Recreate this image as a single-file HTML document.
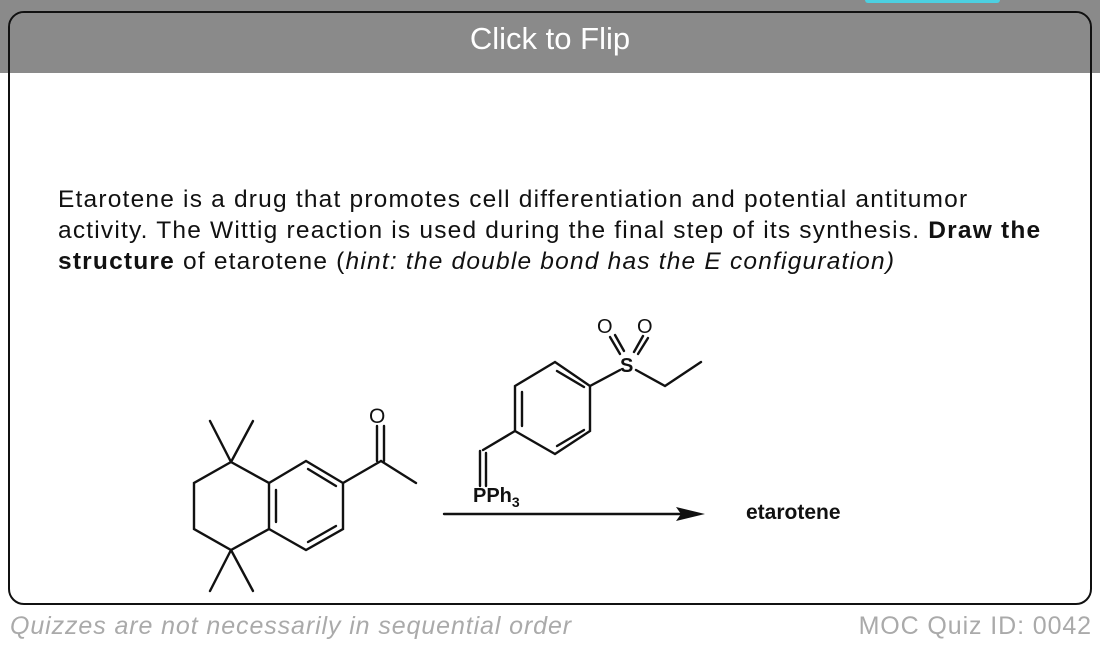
<!DOCTYPE html>
<html><head><meta charset="utf-8"><style>
html,body{margin:0;padding:0;width:1100px;height:648px;overflow:hidden;background:#fff;font-family:"Liberation Sans",Arial,sans-serif;}
#top{position:absolute;left:0;top:0;width:1100px;height:73px;background:#8a8a8a;}
#cyan{position:absolute;left:865px;top:0;width:135px;height:3px;background:#4dd0e1;border-radius:0 0 4px 4px;}
#card{position:absolute;left:8px;top:11px;width:1084px;height:594px;border:2px solid #111;border-radius:16px;box-sizing:border-box;}
#hdr{position:absolute;left:10px;top:13px;width:1080px;height:60px;background:#8a8a8a;border-radius:14px 14px 0 0;}
#title{position:absolute;left:0;width:1100px;top:21px;text-align:center;color:#fff;font-size:31px;}
#q{position:absolute;left:58px;top:184px;width:1040px;font-size:24.5px;line-height:31px;color:#111;white-space:nowrap;letter-spacing:1.2px;}
.ft{position:absolute;top:612px;font-size:25px;color:#aaa;letter-spacing:0.9px;}
</style></head><body>
<div id="top"></div><div id="cyan"></div>
<div id="card"></div><div id="hdr"></div>
<div id="title">Click to Flip</div>
<div id="q">Etarotene is a drug that promotes cell differentiation and potential antitumor<br>activity. The Wittig reaction is used during the final step of its synthesis. <b>Draw the</b><br><b>structure</b> of etarotene (<i>hint: the double bond has the E configuration)</i></div>
<svg style="position:absolute;left:0;top:0" width="1100" height="648" fill="none" stroke="#111" stroke-width="2.4" stroke-linecap="round">
<polyline points="231,462 194,483 194,529 231,550 269,529 269,483 231,462"/>
<line x1="231" y1="462" x2="210" y2="421"/><line x1="231" y1="462" x2="253" y2="421"/>
<line x1="231" y1="550" x2="210" y2="591"/><line x1="231" y1="550" x2="253" y2="591"/>
<polyline points="269,483 306,461 343,483 343,529 306,550 269,529"/>
<line x1="276" y1="490" x2="276" y2="522"/>
<line x1="308" y1="469" x2="336" y2="486"/>
<line x1="308" y1="542" x2="336" y2="526"/>
<line x1="343" y1="483" x2="381" y2="461"/>
<line x1="381" y1="461" x2="416" y2="483"/>
<line x1="377" y1="461" x2="377" y2="426"/><line x1="384" y1="461" x2="384" y2="426"/>
<polyline points="515,431 515,386 555,362 590,386 590,431 555,454 515,431"/>
<line x1="522" y1="392" x2="522" y2="426"/>
<line x1="557" y1="371" x2="584" y2="387"/>
<line x1="557" y1="446" x2="584" y2="430"/>
<line x1="515" y1="431" x2="483" y2="450"/>
<line x1="480" y1="451" x2="480" y2="486"/><line x1="486" y1="453" x2="486" y2="486"/>
<line x1="590" y1="386" x2="620" y2="370"/>
<polyline points="636,370 665,386 701,362"/>
<line x1="610" y1="337" x2="620" y2="354"/><line x1="615" y1="335" x2="624" y2="351"/>
<line x1="643" y1="336" x2="634" y2="352"/><line x1="648" y1="338" x2="638" y2="354"/>
<line x1="444" y1="514" x2="690" y2="514"/>
<polygon points="705,514 676,507 681,514 676,521" fill="#111" stroke="none"/>
<g fill="#111" stroke="none" font-family="Liberation Sans,Arial,sans-serif" font-weight="bold">
<text x="369" y="423" font-size="21" font-weight="normal">O</text>
<text x="473" y="502" font-size="20">PPh<tspan font-size="14" dy="5">3</tspan></text>
<text x="620" y="372" font-size="20">S</text>
<text x="597" y="333" font-size="20" font-weight="normal">O</text>
<text x="637" y="333" font-size="20" font-weight="normal">O</text>
<text x="746" y="519" font-size="21">etarotene</text>
</g>
</svg>
<div class="ft" style="left:10px;font-style:italic;">Quizzes are not necessarily in sequential order</div>
<div class="ft" style="right:8px;">MOC Quiz ID: 0042</div>
</body></html>
